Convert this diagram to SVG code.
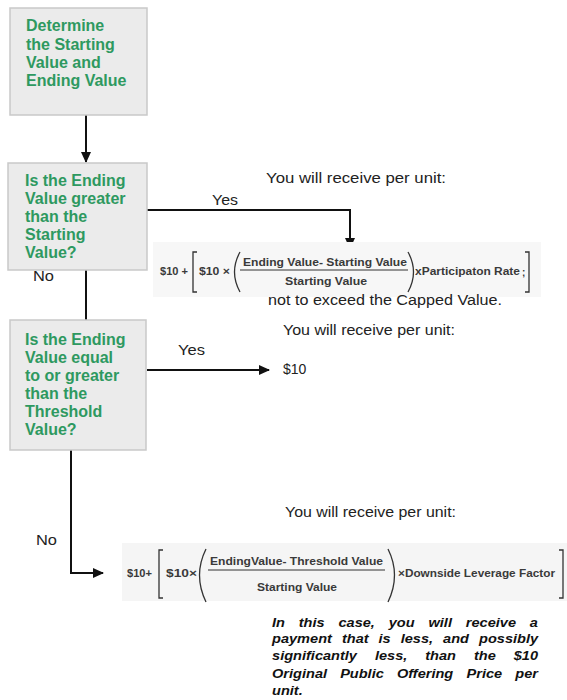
<svg xmlns="http://www.w3.org/2000/svg" width="567" height="700" viewBox="0 0 567 700">
<style>
.box{fill:#ebebeb;stroke:#c9c9c9;stroke-width:1.5}
.q{font-family:"Liberation Sans",Arial,sans-serif;font-weight:bold;font-size:16px;fill:#2e9960}
.t{font-family:"Liberation Sans",Arial,sans-serif;font-size:14px;fill:#222}
.f{font-family:"Liberation Sans",Arial,sans-serif;font-weight:bold;font-size:10px;fill:#3a3a3a}
.f2{font-family:"Liberation Sans",Arial,sans-serif;font-weight:bold;font-size:10.5px;fill:#3a3a3a}
.p{font-family:"Liberation Sans",Arial,sans-serif;font-weight:bold;font-style:italic;font-size:13px;fill:#111}
.c{fill:none;stroke:#111;stroke-width:2}
.br{fill:none;stroke:#333;stroke-width:1.3}
</style>
<defs>
<marker id="ah" markerWidth="11" markerHeight="10" refX="10" refY="5" orient="auto" markerUnits="userSpaceOnUse">
<path d="M0,0 L11,5 L0,10 Z" fill="#111"/>
</marker>
</defs>
<rect width="567" height="700" fill="#fff"/>

<g id="connectors">
<path class="c" d="M86,115 V162" marker-end="url(#ah)"/>
<path class="c" d="M147,210 H350 V248" marker-end="url(#ah)"/>
<path class="c" d="M86,270 V320"/>
<path class="c" d="M147,370 H269" marker-end="url(#ah)"/>
<path class="c" d="M71,450 V573 H103" marker-end="url(#ah)"/>
<text class="t" x="212" y="205" textLength="26" lengthAdjust="spacingAndGlyphs">Yes</text>
<text class="t" x="33" y="281" textLength="21" lengthAdjust="spacingAndGlyphs">No</text>
<text class="t" x="178" y="355" textLength="27" lengthAdjust="spacingAndGlyphs">Yes</text>
<text class="t" x="36" y="545" textLength="21" lengthAdjust="spacingAndGlyphs">No</text>
</g>

<g id="n1">
<rect class="box" x="10" y="8" width="137" height="107"/>
<text class="q" x="26" y="31">Determine</text>
<text class="q" x="26" y="50">the Starting</text>
<text class="q" x="26" y="68">Value and</text>
<text class="q" x="26" y="86">Ending Value</text>
</g>

<g id="n2">
<rect class="box" x="8" y="163" width="139" height="107"/>
<text class="q" x="25" y="186">Is the Ending</text>
<text class="q" x="25" y="204">Value greater</text>
<text class="q" x="25" y="222">than the</text>
<text class="q" x="25" y="240">Starting</text>
<text class="q" x="25" y="258">Value?</text>
</g>

<g id="n3">
<rect class="box" x="10" y="320" width="136" height="130"/>
<text class="q" x="25" y="345">Is the Ending</text>
<text class="q" x="25" y="363">Value equal</text>
<text class="q" x="25" y="381">to or greater</text>
<text class="q" x="25" y="399">than the</text>
<text class="q" x="25" y="417">Threshold</text>
<text class="q" x="25" y="435">Value?</text>
</g>

<g id="r1">
<text class="t" x="266" y="183" textLength="180" lengthAdjust="spacingAndGlyphs">You will receive per unit:</text>
<rect x="153" y="242" width="388" height="55" fill="#f7f7f7"/>
<text class="f" x="160" y="275" textLength="28" lengthAdjust="spacingAndGlyphs">$10 +</text>
<path class="br" d="M197,252 H193 V292 H197"/>
<text class="f" x="199" y="275" textLength="31" lengthAdjust="spacingAndGlyphs">$10 ×</text>
<path class="br" d="M240,252 Q229,272 240,292"/>
<text class="f" x="243" y="266" textLength="164" lengthAdjust="spacingAndGlyphs">Ending Value- Starting Value</text>
<line x1="240" y1="270" x2="408" y2="270" stroke="#333" stroke-width="1"/>
<text class="f" x="285" y="285" textLength="82" lengthAdjust="spacingAndGlyphs">Starting Value</text>
<path class="br" d="M408,252 Q419,272 408,292"/>
<text class="f" x="415" y="275" textLength="105" lengthAdjust="spacingAndGlyphs">xParticipaton Rate</text>
<text class="f" x="522" y="276">;</text>
<path class="br" d="M525,252 H529 V292 H525"/>
<text class="t" x="268" y="305" textLength="234" lengthAdjust="spacingAndGlyphs">not to exceed the Capped Value.</text>
</g>

<g id="r2">
<text class="t" x="283" y="335" textLength="172" lengthAdjust="spacingAndGlyphs">You will receive per unit:</text>
<text class="t" x="283" y="374">$10</text>
</g>

<g id="r3">
<text class="t" x="285" y="517" textLength="171" lengthAdjust="spacingAndGlyphs">You will receive per unit:</text>
<rect x="122" y="543" width="445" height="58" fill="#f5f5f5"/>
<text class="f2" x="127" y="577" textLength="25" lengthAdjust="spacingAndGlyphs">$10+</text>
<path class="br" d="M163,550 H159 V598 H163"/>
<text class="f2" x="166" y="577" textLength="31" lengthAdjust="spacingAndGlyphs">$10×</text>
<path class="br" d="M206,549 Q193,575 206,602"/>
<text class="f2" x="210" y="565" textLength="173" lengthAdjust="spacingAndGlyphs">EndingValue- Threshold Value</text>
<line x1="208" y1="570" x2="385" y2="570" stroke="#333" stroke-width="1"/>
<text class="f2" x="257" y="591" textLength="80" lengthAdjust="spacingAndGlyphs">Starting Value</text>
<path class="br" d="M388,549 Q401,575 388,602"/>
<text class="f2" x="398" y="577" textLength="157" lengthAdjust="spacingAndGlyphs">×Downside Leverage Factor</text>
<path class="br" d="M559,550 H563 V598 H559"/>
</g>

<g id="note" transform="scale(1.12,1)">
<text class="p" y="627"><tspan x="242.9">In</tspan><tspan x="266.7">this</tspan><tspan x="302.2">case,</tspan><tspan x="347.1">you</tspan><tspan x="382.6">will</tspan><tspan x="415.9">receive</tspan><tspan x="473.1">a</tspan></text>
<text class="p" y="643"><tspan x="242.9">payment</tspan><tspan x="305.3">that</tspan><tspan x="338">is</tspan><tspan x="357.8">less,</tspan><tspan x="395.6">and</tspan><tspan x="427.7">possibly</tspan></text>
<text class="p" y="660"><tspan x="242.9">significantly</tspan><tspan x="334.8">less,</tspan><tspan x="379.7">than</tspan><tspan x="423.2">the</tspan><tspan x="458.7">$10</tspan></text>
<text class="p" y="678"><tspan x="242.9">Original</tspan><tspan x="303.7">Public</tspan><tspan x="354.4">Offering</tspan><tspan x="416.6">Price</tspan><tspan x="460.1">per</tspan></text>
<text class="p" x="242.9" y="695">unit.</text>
</g>
</svg>
